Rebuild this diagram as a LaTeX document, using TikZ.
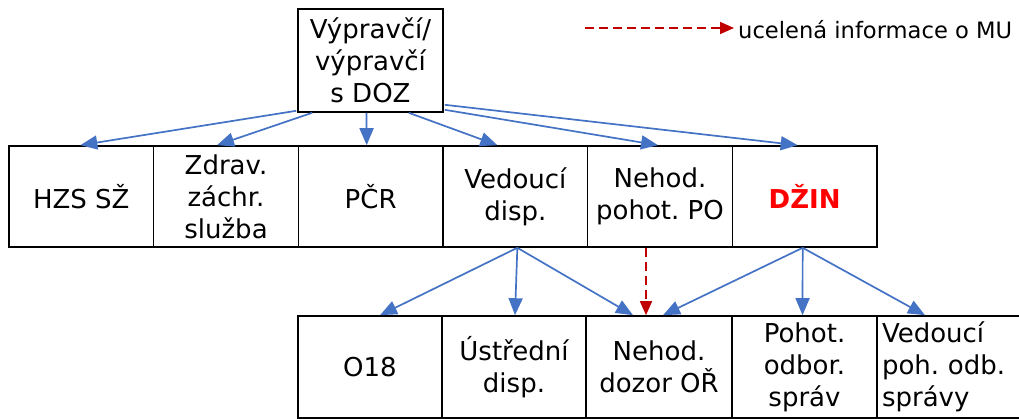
\documentclass[tikz,border=0pt]{standalone}
\usepackage{fontspec}
\setmainfont{DejaVu Sans}
\usetikzlibrary{arrows.meta,calc}
\definecolor{lnblue}{RGB}{68,114,196}
\definecolor{lnred}{RGB}{192,0,0}
\definecolor{txtred}{RGB}{255,0,0}
\frenchspacing
\begin{document}
\begin{tikzpicture}[x=1pt,y=-1pt,
  cell/.style={draw=black,line width=1.6pt,inner sep=0pt,align=center,
    font=\fontsize{26}{32}\selectfont},
  midcell/.style={cell,minimum width=144.67pt,minimum height=101pt},
  botcell/.style={cell,minimum width=145pt,minimum height=102pt},
  bluearrow/.style={draw=lnblue,line width=1.7pt,-{Triangle[length=17pt,width=14pt]}},
  redarrow/.style={draw=lnred,line width=1.5pt,dash pattern=on 9pt off 5pt,-{Triangle[length=14pt,width=12pt]}}]
\useasboundingbox (0,0) rectangle (1019,419);
% top box
\node[cell,minimum width=145pt,minimum height=103pt] (top) at (370.5,60.5) {Výpravčí/\\výpravčí\\s DOZ};
% middle row
\node[midcell] (hzs)   at (81.33,196.5) {HZS SŽ};
\node[midcell] (zdrav) at (226,196.5) {Zdrav.\\záchr.\\služba};
\node[midcell] (pcr)   at (370.67,196.5) {PČR};
\node[midcell] (ved)   at (515.33,196.5) {Vedoucí\\disp.};
\node[midcell] (npo)   at (660,196.5) {Nehod.\\pohot. PO};
\node[midcell] (dzin)  at (804.67,196.5) {\textcolor{txtred}{\bfseries DŽIN}};
% bottom row
\node[botcell,minimum width=144pt] (o18) at (370,367) {O18};
\node[botcell,minimum width=144pt] (ust) at (514,367) {Ústřední\\disp.};
\node[botcell,minimum width=146pt] (ndo) at (659,367) {Nehod.\\dozor OŘ};
\node[botcell] (poh) at (804.5,367) {Pohot.\\odbor.\\správ};
\node[botcell,minimum width=144pt,align=left,text width=144pt] (vpo) at (949,367) {\hspace*{5pt}Vedoucí\\\hspace*{5pt}poh. odb.\\\hspace*{5pt}správy};
% arrows top -> middle
\draw[bluearrow] ($(top.south west)+(-1,-2)$) -- ($(hzs.north)+(-1,0)$);
\draw[bluearrow] ($(top.south west)+(15,0)$) -- ($(zdrav.north)+(-9,0)$);
\draw[bluearrow] ($(top.south)+(-4,0)$) -- ($(pcr.north)+(-4,0)$);
\draw[bluearrow] ($(top.south east)+(-35,0)$) -- ($(ved.north)+(-18,0)$);
\draw[bluearrow] ($(top.south east)+(1,-3)$) -- ($(npo.north)+(-2,0)$);
\draw[bluearrow] ($(top.south east)+(1,-8)$) -- ($(dzin.north)+(-7,0)$);
% arrows middle -> bottom
\draw[bluearrow] ($(ved.south)+(2,0)$) -- ($(o18.north)+(10,0)$);
\draw[bluearrow] ($(ved.south)+(2,0)$) -- ($(ust.north)+(1,0)$);
\draw[bluearrow] ($(ved.south)+(2,0)$) -- ($(ndo.north)+(-26,0)$);
\draw[bluearrow] ($(dzin.south)+(-2,0)$) -- ($(ndo.north)+(4,0)$);
\draw[bluearrow] ($(dzin.south)+(-2,0)$) -- ($(poh.north)+(-2,0)$);
\draw[bluearrow] ($(dzin.south)+(-2,0)$) -- ($(vpo.north)+(-24,0)$);
\draw[redarrow] ($(npo.south)+(-14,0)$) -- ($(ndo.north)+(-13,0)$);
% legend
\coordinate (legA) at (585,28);
\node[anchor=west,inner sep=0pt,font=\fontsize{22.6}{27}\selectfont] (legtxt) at (738,30) {ucelená informace o MU};
\draw[redarrow] (legA) -- ($(legtxt.west |- legA)+(-4,0)$);
\end{tikzpicture}
\end{document}
